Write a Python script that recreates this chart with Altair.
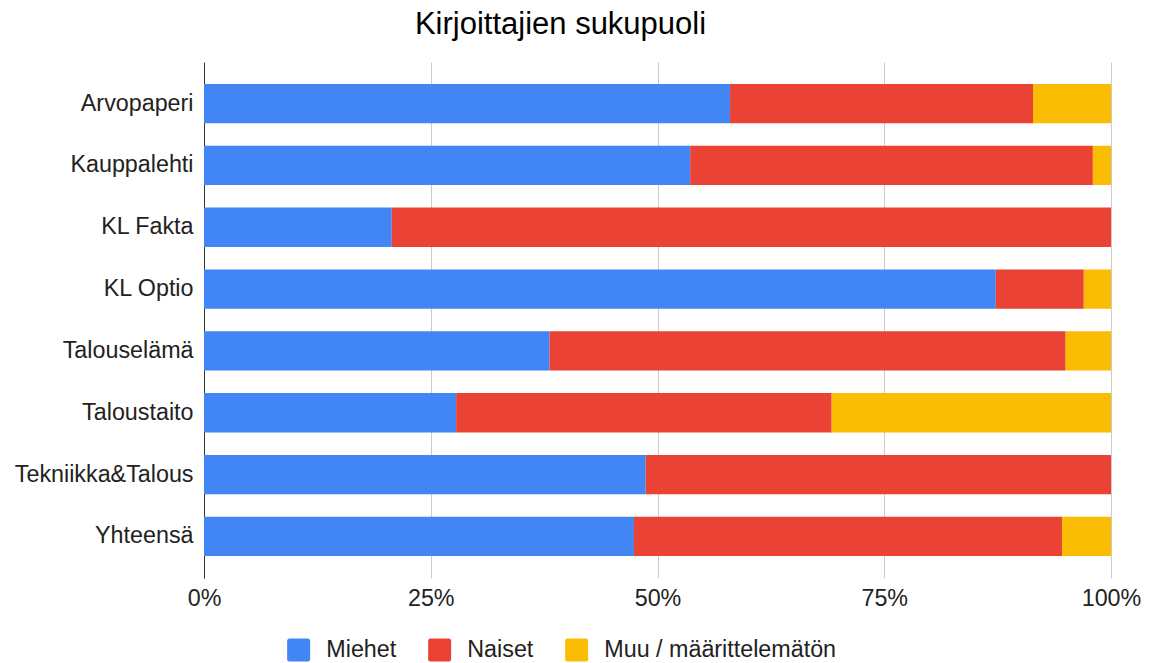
import altair as alt
import pandas as pd

categories = ["Arvopaperi", "Kauppalehti", "KL Fakta", "KL Optio",
              "Talouselämä", "Taloustaito", "Tekniikka&Talous", "Yhteensä"]
series = ["Miehet", "Naiset", "Muu / määrittelemätön"]
miehet = [58.0, 53.6, 20.7, 87.3, 38.1, 27.8, 48.7, 47.4]
naiset = [33.4, 44.4, 79.3, 9.7, 56.9, 41.4, 51.3, 47.2]
muu = [8.6, 2.0, 0.0, 3.0, 5.0, 30.8, 0.0, 5.4]
colors = ["#4285F4", "#EA4335", "#FBBC04"]
tick_values = [0, 25, 50, 75, 100]

rows = []
for i, c in enumerate(categories):
    for j, (s, vals) in enumerate(zip(series, [miehet, naiset, muu])):
        rows.append({"lehti": c, "sarja": s, "arvo": vals[i], "jarj": j})
df = pd.DataFrame(rows)

FONT = "Liberation Sans"
rounded = ("M-1,-0.8 A0.2,0.2 0 0 1 -0.8,-1 L0.8,-1 A0.2,0.2 0 0 1 1,-0.8 "
           "L1,0.8 A0.2,0.2 0 0 1 0.8,1 L-0.8,1 A0.2,0.2 0 0 1 -1,0.8 Z")

chart = alt.Chart(df).mark_bar().encode(
    x=alt.X("arvo:Q", stack="zero",
            scale=alt.Scale(domain=[0, 100], nice=False),
            axis=alt.Axis(values=tick_values, labelExpr="datum.value + '%'",
                          title=None, grid=True, gridColor="#cccccc", gridWidth=1,
                          domain=False, ticks=False, labelPadding=9, labelFlush=False,
                          labelFontSize=23.3, labelFont=FONT, labelColor="#222222")),
    y=alt.Y("lehti:N", sort=categories,
            scale=alt.Scale(paddingInner=0.365, paddingOuter=0.355),
            axis=alt.Axis(title=None, ticks=False, domain=True, domainColor="#333333",
                          domainWidth=1, grid=False, labelPadding=11, labelLimit=0,
                          labelFontSize=23.3, labelFont=FONT, labelColor="#222222")),
    color=alt.Color("sarja:N", sort=series,
                    scale=alt.Scale(domain=series, range=colors),
                    legend=alt.Legend(orient="none", legendX=83, legendY=576,
                                      direction="horizontal", title=None,
                                      symbolType=rounded, symbolSize=529,
                                      symbolStrokeWidth=0, symbolOpacity=1,
                                      labelFontSize=23.3, labelFont=FONT, labelLimit=0,
                                      labelColor="#222222", labelOffset=16,
                                      columnPadding=31, padding=0)),
    order=alt.Order("jarj:Q", sort="ascending"),
).properties(
    width=907,
    height=516,
    title=alt.TitleParams("Kirjoittajien sukupuoli", fontSize=31, font=FONT,
                          fontWeight="normal", color="#000000",
                          anchor="middle", dx=-97, offset=21),
    autosize=alt.AutoSizeParams(type="none"),
    padding={"left": 196, "top": 54, "right": 37, "bottom": 85},
).configure_view(stroke=None)

chart.save("out.html", embed_options={"renderer": "svg", "actions": False})
